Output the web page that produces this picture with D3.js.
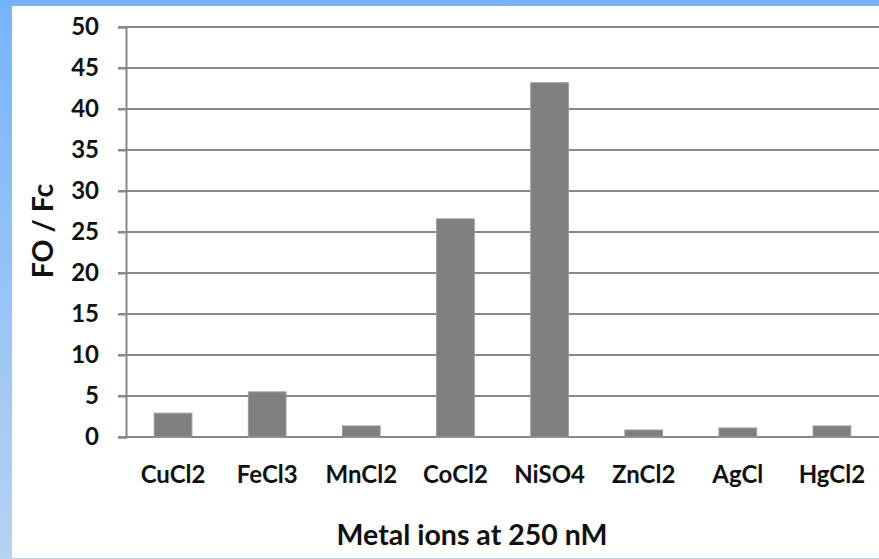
<!DOCTYPE html>
<meta charset="utf-8">
<style>
html, body {
  margin: 0;
  padding: 0;
}
body {
  width: 879px;
  height: 559px;
  background: linear-gradient(to bottom, #77b3fc, #b6d3f1);
  overflow: hidden;
}
svg {
  display: block;
}
.tick text {
  font-family: Lato, "Open Sans", sans-serif;
  font-weight: bold;
  fill: #111;
}
</style>
<body>
<svg width="879" height="559"></svg>
<script src="https://d3js.org/d3.v7.min.js"></script>
<script>

var categories = ["CuCl2", "FeCl3", "MnCl2", "CoCl2", "NiSO4", "ZnCl2", "AgCl", "HgCl2"];
var values = [2.9, 5.5, 1.35, 26.6, 43.2, 0.85, 1.1, 1.35];
var yTicks = [0, 5, 10, 15, 20, 25, 30, 35, 40, 45, 50];

var svg = d3.select("svg");

// white panel over the blue frame
svg.append("rect")
    .attr("x", 12).attr("y", 6)
    .attr("width", 867).attr("height", 552)
    .attr("fill", "#fff");

var x = d3.scaleBand()
    .domain(categories)
    .range([126, 879])
    .paddingInner(0.6)
    .paddingOuter(0.3);

var y = d3.scaleLinear()
    .domain([0, 50])
    .range([437, 27]);

// gridlines
svg.append("g")
  .selectAll("line")
  .data(yTicks)
  .join("line")
    .attr("x1", 118).attr("x2", 879)
    .attr("y1", function(d) { return y(d); })
    .attr("y2", function(d) { return y(d); })
    .attr("stroke", "#888")
    .attr("stroke-width", 2);

// y axis
var yAxis = svg.append("g")
    .attr("transform", "translate(126,0)")
    .call(d3.axisLeft(y).tickValues(yTicks).tickSize(8).tickPadding(19));
yAxis.select(".domain").attr("stroke", "#888").attr("stroke-width", 2);
yAxis.selectAll(".tick line").attr("stroke", "#888").attr("stroke-width", 2);
yAxis.selectAll(".tick text").style("font-size", "24px");

// bars
svg.append("g")
  .selectAll("rect")
  .data(values)
  .join("rect")
    .attr("x", function(d, i) { return x(categories[i]); })
    .attr("y", function(d) { return y(d); })
    .attr("width", x.bandwidth())
    .attr("height", function(d) { return y(0) - y(d); })
    .attr("fill", "#7f7f7f")
    .attr("stroke", "#9a9a9a")
    .attr("stroke-width", 1);

// x axis labels
var xAxis = svg.append("g")
    .attr("transform", "translate(0,437)")
    .call(d3.axisBottom(x).tickSize(0).tickPadding(29));
xAxis.select(".domain").remove();
xAxis.selectAll(".tick text").style("font-size", "24px");

// axis titles
svg.append("text")
    .attr("x", 472).attr("y", 545)
    .attr("text-anchor", "middle")
    .style("font-family", "Lato, 'Open Sans', sans-serif")
    .style("font-weight", "bold")
    .style("font-size", "28.5px")
    .style("fill", "#111")
    .text("Metal ions at 250 nM");

svg.append("text")
    .attr("transform", "translate(53,231) rotate(-90)")
    .attr("text-anchor", "middle")
    .style("font-family", "Lato, 'Open Sans', sans-serif")
    .style("font-weight", "bold")
    .style("font-size", "28.5px")
    .style("fill", "#111")
    .text("FO / Fc");

</script>
</body>
